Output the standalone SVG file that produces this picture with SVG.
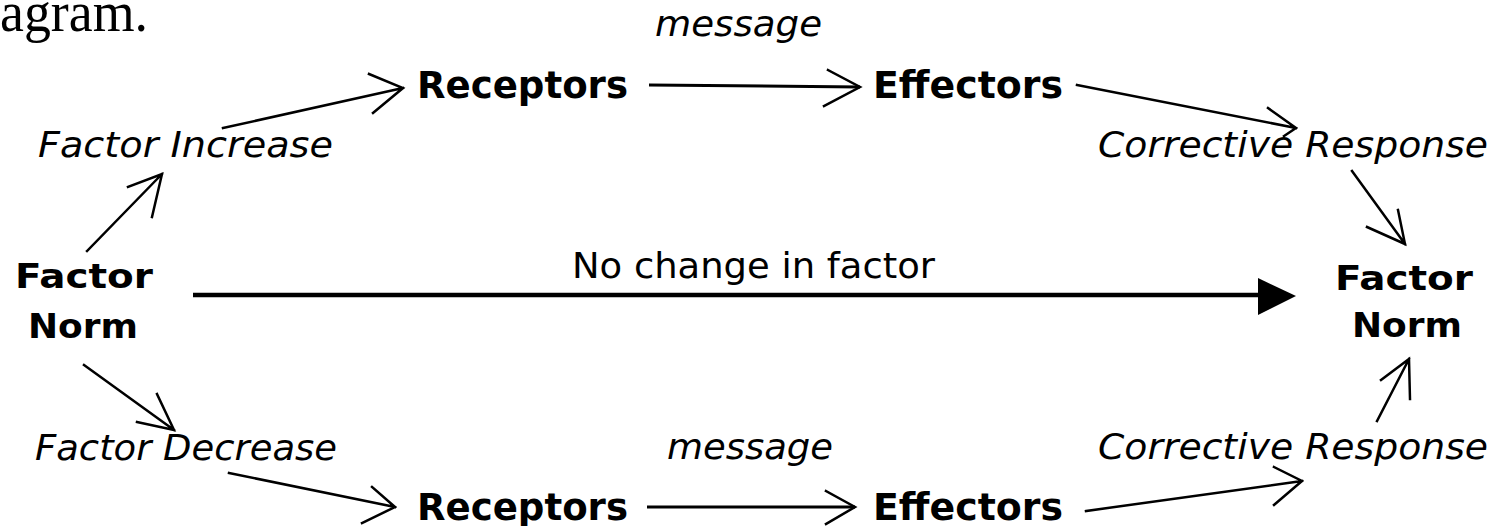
<svg xmlns="http://www.w3.org/2000/svg" width="1496" height="526" viewBox="0 0 1496 526">
<style>
.bg{fill:#ffffff}
.bold{font-family:"DejaVu Sans","Liberation Sans",sans-serif;font-weight:bold;fill:#000}
.ital{font-family:"DejaVu Sans","Liberation Sans",sans-serif;font-style:italic;fill:#000}
.reg{font-family:"DejaVu Sans","Liberation Sans",sans-serif;fill:#000}
.serif{font-family:"Liberation Serif","Times New Roman",serif;fill:#000}
.ln{fill:none;stroke:#000;stroke-width:2.5;stroke-linecap:square}
.thick{fill:none;stroke:#000;stroke-width:3}
.main{fill:none;stroke:#000;stroke-width:4.5}
</style>
<rect class="bg" x="0" y="0" width="1496" height="526"/>
<text class="serif" x="0" y="31" font-size="57" textLength="148" lengthAdjust="spacingAndGlyphs">agram.</text>

<g id="connectors">
  <!-- Factor Norm -> Factor Increase -->
  <path class="ln" d="M87,251 L162,174 M128,187 L162,174 L152,217"/>
  <!-- Factor Increase -> Receptors -->
  <path class="ln" d="M223,128 L403,88 M369,74 L403,88 L373,113"/>
  <!-- Receptors -> Effectors (message) -->
  <path class="thick" d="M649,85 L860,87"/>
  <path class="ln" d="M828,70 L860,87 L824,106"/>
  <!-- Effectors -> Corrective Response -->
  <path class="ln" d="M1077,85 L1296,128 M1268,108 L1296,128 L1284,136"/>
  <!-- Corrective Response -> Factor Norm (right) -->
  <path class="ln" d="M1352,171 L1405,244 M1367,227 L1405,244 L1398,210"/>
  <!-- No change in factor -->
  <path class="main" d="M193,295 L1262,295"/>
  <polygon points="1258,278 1296,296 1258,315" fill="#000"/>
  <!-- Factor Norm -> Factor Decrease -->
  <path class="ln" d="M84,365 L174,430 M157,394 L174,430 L137,422"/>
  <!-- Factor Decrease -> Receptors (bottom) -->
  <path class="ln" d="M229,473 L395,507 M372,487 L395,507 L362,523"/>
  <!-- Receptors -> Effectors (bottom) -->
  <path class="thick" d="M647,507 L855,507"/>
  <path class="ln" d="M826,491 L855,507 L826,524"/>
  <!-- Effectors -> Corrective Response (bottom) -->
  <path class="ln" d="M1086,511 L1302,481 M1274,467 L1302,481 L1274,505"/>
  <!-- Corrective Response -> Factor Norm (right bottom) -->
  <path class="ln" d="M1377,421 L1409,359 M1381,380 L1409,359 L1410,399"/>
</g>

<g id="factor-norm-left">
  <text class="bold" x="15" y="288" font-size="34" textLength="138" lengthAdjust="spacingAndGlyphs">Factor</text>
  <text class="bold" x="28" y="338" font-size="34" textLength="110" lengthAdjust="spacingAndGlyphs">Norm</text>
</g>
<g id="factor-increase">
  <text class="ital" x="38" y="157" font-size="35" textLength="295" lengthAdjust="spacingAndGlyphs">Factor Increase</text>
</g>
<g id="receptors-top">
  <text class="bold" x="417" y="98" font-size="37" textLength="211" lengthAdjust="spacingAndGlyphs">Receptors</text>
</g>
<g id="message-top">
  <text class="ital" x="655" y="36" font-size="36" textLength="167" lengthAdjust="spacingAndGlyphs">message</text>
</g>
<g id="effectors-top">
  <text class="bold" x="873" y="98" font-size="37" textLength="190" lengthAdjust="spacingAndGlyphs">Effectors</text>
</g>
<g id="corrective-response-top">
  <text class="ital" x="1098" y="157" font-size="35" textLength="390" lengthAdjust="spacingAndGlyphs">Corrective Response</text>
</g>
<g id="no-change-label">
  <text class="reg" x="572" y="278" font-size="36" textLength="363" lengthAdjust="spacingAndGlyphs">No change in factor</text>
</g>
<g id="factor-norm-right">
  <text class="bold" x="1335" y="290" font-size="34" textLength="138" lengthAdjust="spacingAndGlyphs">Factor</text>
  <text class="bold" x="1352" y="337" font-size="34" textLength="110" lengthAdjust="spacingAndGlyphs">Norm</text>
</g>
<g id="factor-decrease">
  <text class="ital" x="35" y="460" font-size="35" textLength="302" lengthAdjust="spacingAndGlyphs">Factor Decrease</text>
</g>
<g id="message-bottom">
  <text class="ital" x="667" y="459" font-size="36" textLength="166" lengthAdjust="spacingAndGlyphs">message</text>
</g>
<g id="receptors-bottom">
  <text class="bold" x="417" y="520" font-size="37" textLength="211" lengthAdjust="spacingAndGlyphs">Receptors</text>
</g>
<g id="effectors-bottom">
  <text class="bold" x="873" y="520" font-size="37" textLength="190" lengthAdjust="spacingAndGlyphs">Effectors</text>
</g>
<g id="corrective-response-bottom">
  <text class="ital" x="1098" y="459" font-size="35" textLength="390" lengthAdjust="spacingAndGlyphs">Corrective Response</text>
</g>
</svg>
